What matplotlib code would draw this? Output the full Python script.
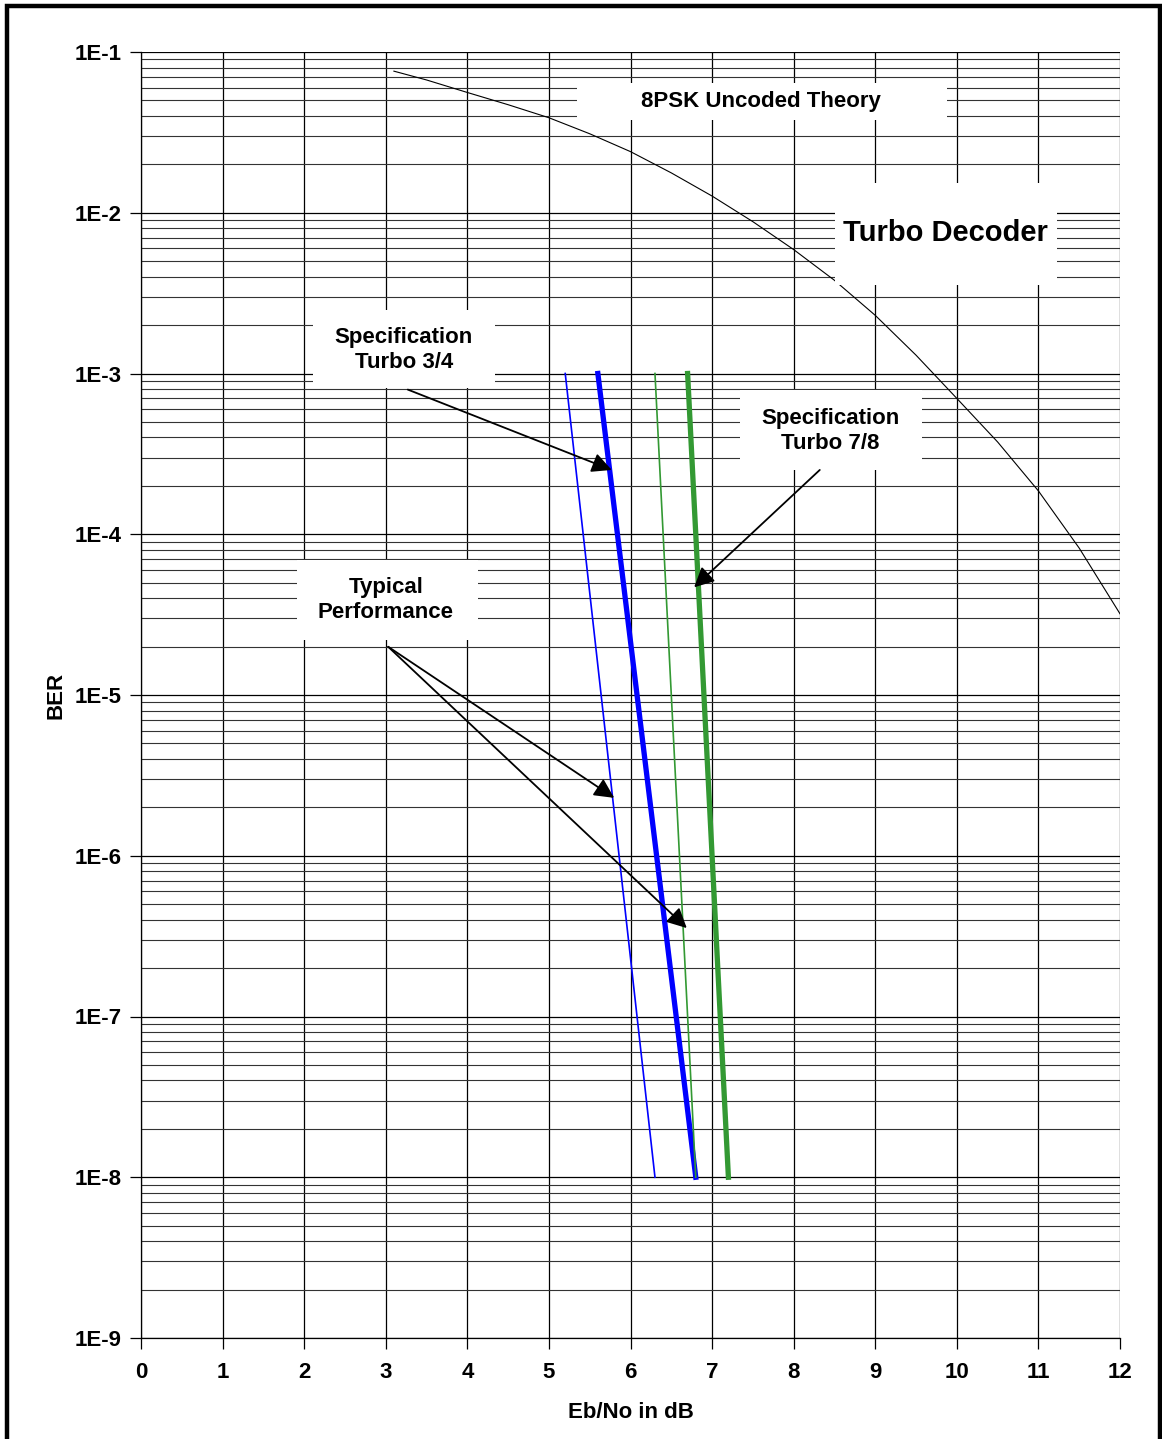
import matplotlib
matplotlib.use("Agg")
import matplotlib.pyplot as plt
from matplotlib.patches import Rectangle
from matplotlib.ticker import LogLocator, FixedLocator, NullFormatter
import numpy as np

plt.rcParams['font.family'] = ['Liberation Sans', 'DejaVu Sans']
plt.rcParams['font.weight'] = 'bold'

# 8PSK uncoded theory curve
theory_ebno = [3.1, 3.5, 4, 4.5, 5, 5.5, 6, 6.5, 7, 7.5, 8, 8.5, 9, 9.5, 10, 10.5, 11, 11.5, 12]
theory_ber = [7.6e-2, 6.7e-2, 5.6e-2, 4.7e-2, 3.9e-2, 3.1e-2, 2.4e-2, 1.77e-2, 1.27e-2,
              8.8e-3, 5.9e-3, 3.8e-3, 2.3e-3, 1.3e-3, 7.0e-4, 3.75e-4, 1.86e-4, 8.2e-5, 3.2e-5]

# straight spec / typical lines, end points at 1E-3 and 1E-8
line_ber = [1e-3, 1e-8]
typ_34 = [5.2, 6.3]
spec_34 = [5.6, 6.8]
typ_78 = [6.3, 6.8]
spec_78 = [6.7, 7.2]

ytick_vals = [1e-1, 1e-2, 1e-3, 1e-4, 1e-5, 1e-6, 1e-7, 1e-8, 1e-9]
ytick_labels = ["1E-1", "1E-2", "1E-3", "1E-4", "1E-5", "1E-6", "1E-7", "1E-8", "1E-9"]
xtick_vals = list(range(0, 13))

# label boxes: (text, x, log10 y, box x0, box x1, box logy0, box logy1, size)
labels = [
    ("8PSK Uncoded Theory", 7.60, -1.305, 5.34, 9.88, -1.423, -1.193, 16),
    ("Turbo Decoder", 9.855, -2.126, 8.51, 11.23, -2.449, -1.815, 21),
    ("Specification\nTurbo 3/4", 3.22, -2.854, 2.11, 4.34, -3.09, -2.605, 16),
    ("Specification\nTurbo 7/8", 8.445, -3.358, 7.34, 9.57, -3.60, -3.103, 16),
    ("Typical\nPerformance", 3.00, -4.409, 1.91, 4.13, -4.658, -4.16, 16),
]

# arrows: (start x, start log y, end x, end log y)
arrows = [
    (3.27, -3.10, 5.77, -3.60),
    (8.32, -3.60, 6.78, -4.33),
    (3.03, -4.70, 5.80, -5.64),
    (3.03, -4.70, 6.69, -6.45),
]

fig = plt.figure(figsize=(11.62, 14.39), dpi=100)
ax = fig.add_axes([141 / 1162, 101 / 1439, 979 / 1162, 1286 / 1439])

ax.set_yscale('log')
ax.set_xlim(0, 12)
ax.set_ylim(1e-9, 1e-1)

ax.yaxis.set_major_locator(FixedLocator(ytick_vals))
ax.set_yticklabels(ytick_labels)
ax.yaxis.set_minor_locator(LogLocator(base=10, subs=np.arange(2, 10)))
ax.yaxis.set_minor_formatter(NullFormatter())
ax.set_xticks(xtick_vals)
ax.set_xticklabels([str(v) for v in xtick_vals])

ax.grid(True, which='major', color='black', lw=0.9)
ax.grid(True, which='minor', axis='y', color='#333333', lw=0.8)
ax.set_axisbelow(True)
ax.tick_params(axis='both', which='major', length=8, width=0.9, labelsize=16, direction='out')
ax.tick_params(axis='x', pad=9)
ax.tick_params(axis='y', pad=6)
ax.tick_params(axis='y', which='minor', length=0)
for sp in ax.spines.values():
    sp.set_linewidth(0.9)
ax.spines['top'].set_visible(False)
ax.spines['right'].set_visible(False)

ax.set_xlabel("Eb/No in dB", fontsize=16, fontweight='bold', labelpad=14)
ax.set_ylabel("BER", fontsize=16, fontweight='bold', labelpad=6)

ax.plot(theory_ebno, theory_ber, color='black', lw=0.8, zorder=3)
ax.plot(typ_34, line_ber, color='#0000ff', lw=1.2, zorder=4)
ax.plot(spec_34, line_ber, color='#0000ff', lw=3.8, zorder=4)
ax.plot(typ_78, line_ber, color='#339933', lw=1.2, zorder=4)
ax.plot(spec_78, line_ber, color='#339933', lw=3.8, zorder=4)

for txt, tx, ty, bx0, bx1, by0, by1, size in labels:
    ax.add_patch(Rectangle((bx0, 10 ** by0), bx1 - bx0, 10 ** by1 - 10 ** by0,
                           facecolor='white', edgecolor='none', zorder=5))
    ax.text(tx, 10 ** ty, txt, ha='center', va='center', fontsize=size,
            fontweight='bold', linespacing=1.3, zorder=6)

for x0, y0, x1, y1 in arrows:
    ax.annotate("", xy=(x1, 10 ** y1), xytext=(x0, 10 ** y0),
                arrowprops=dict(arrowstyle='-|>', color='black', lw=1.3,
                                mutation_scale=30, shrinkA=0, shrinkB=0),
                zorder=7)

# outer frame of the figure (bottom edge falls outside the image)
fig.patches.append(Rectangle((7 / 1162, -0.05), 1153 / 1162, 1.05 - 6 / 1439,
                             transform=fig.transFigure, fill=False,
                             edgecolor='black', lw=3.2, clip_on=False))

fig.savefig("out.png", dpi=100)
